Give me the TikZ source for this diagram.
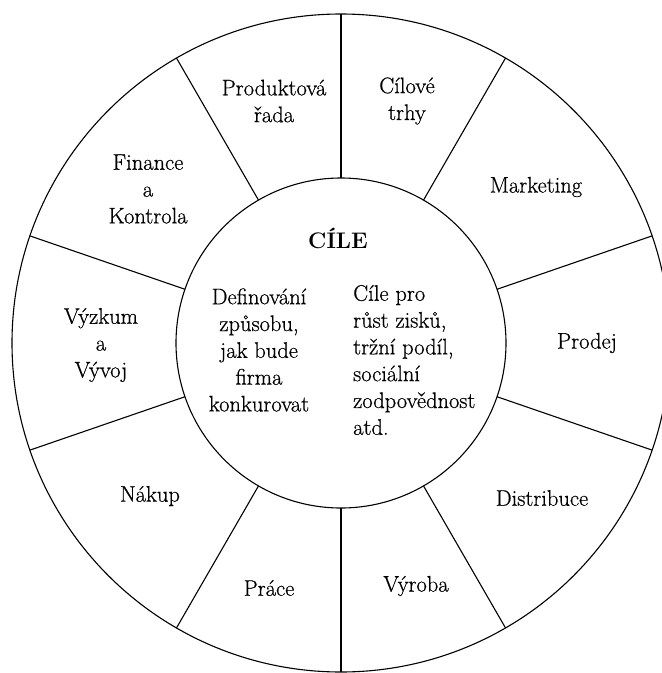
\documentclass[tikz,border=0pt]{standalone}
\usepackage{fontspec}
\newfontfamily\lblfont{Latin Modern Roman}[FakeBold=0.6]
\usetikzlibrary{calc}
\begin{document}
\begin{tikzpicture}[x=1pt,y=-1pt,
  ring/.style={line width=1.1pt,draw=black},
  lbl/.style={inner sep=0pt,align=center,font=\lblfont\fontsize{22.5}{26.8}\selectfont},
  lblleft/.style={inner sep=0pt,align=left,font=\lblfont\fontsize{22.5}{26.8}\selectfont}]
\useasboundingbox (0,0) rectangle (662,673);
\coordinate (c) at (341,343);
% circles
\draw[ring] (c) circle[radius=329pt];
\draw[ring] (c) circle[radius=165pt];
% dividers
\foreach \a/\n in {90/d1,60/d2,19/d3,-19/d4,-60/d5,-90/d6,-120/d7,-161/d8,161/d9,120/d10}{
  \coordinate (\n i) at ($(c)+(\a:165pt)$);
  \coordinate (\n o) at ($(c)+(\a:329pt)$);
  \draw[ring] (\n i) -- (\n o);
}
% labels
\node[lbl] (prod) at (274,101) {Produktová\\řada};
\node[lbl] (cil) at (407,101) {Cílové\\trhy};
\node[lbl] (mkt) at (536,187) {Marketing};
\node[lbl] (fin) at (148,189) {Finance\\a\\Kontrola};
\node[lbl,font=\rmfamily\fontsize{22.5}{26.8}\selectfont\bfseries] (cile) at (338,238) {CÍLE};
\node[lbl] (def) at (259,350) {Definování\\způsobu,\\jak bude\\firma\\konkurovat};
\node[lblleft,anchor=west] (goals) at (353,360) {Cíle pro\\růst zisků,\\tržní podíl,\\sociální\\zodpovědnost\\atd.};
\node[lbl] (vyz) at (101,345) {Výzkum\\a\\Vývoj};
\node[lbl] (prodej) at (587,343) {Prodej};
\node[lbl] (nak) at (150,496) {Nákup};
\node[lbl] (dist) at (542,498) {Distribuce};
\node[lbl] (prace) at (269,588) {Práce};
\node[lbl] (vyr) at (416,586) {Výroba};
\end{tikzpicture}
\end{document}
